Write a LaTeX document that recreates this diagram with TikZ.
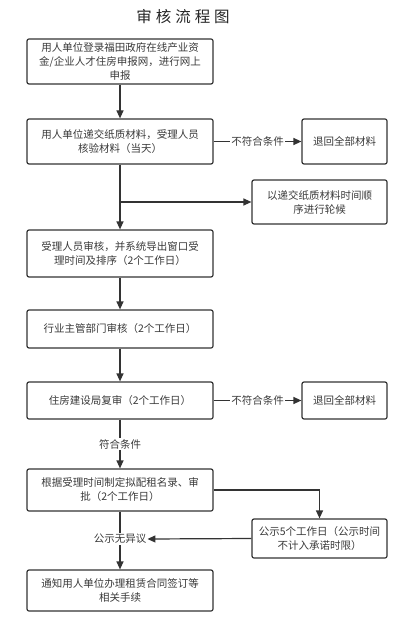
\documentclass[tikz,border=0pt]{standalone}
\usepackage{fontspec}
\setmainfont{Noto Sans CJK SC}
\usetikzlibrary{arrows.meta}
\definecolor{edge}{HTML}{333333}
\definecolor{txt}{HTML}{3A3A3A}
\begin{document}
\begin{tikzpicture}[x=1pt,y=-1pt,
  box/.style={draw=edge,line width=1.2pt,rounded corners=2pt,align=center,
    text=txt,font=\fontsize{10.5}{14}\selectfont,inner sep=2pt},
  arr/.style={draw=edge,line width=1.2pt,-{Triangle[length=8pt,width=7pt]}},
  lab/.style={fill=white,text=txt,font=\fontsize{10.5}{13}\selectfont,inner sep=1pt}]
\useasboundingbox[fill=white] (0,0) rectangle (418,628);
\node[font=\fontsize{15.5}{18}\selectfont,text=black!85] (title) at (183,17) {审\hspace{4pt}核\hspace{4pt}流\hspace{4pt}程\hspace{4pt}图};
\node[box,minimum width=186pt,minimum height=45pt] (b1) at (120,61.5) {用人单位登录福田政府在线产业资\\金/企业人才住房申报网，进行网上\\申报};
\node[box,minimum width=186pt,minimum height=45pt] (b2) at (120,141.5) {用人单位递交纸质材料，受理人员\\核验材料（当天）};
\node[box,minimum width=85pt,minimum height=45pt] (b3) at (344.5,141.5) {退回全部材料};
\node[box,minimum width=135pt,minimum height=44pt] (b4) at (319.5,202) {以递交纸质材料时间顺\\序进行轮候};
\node[box,minimum width=186pt,minimum height=47pt] (b5) at (120,253.5) {受理人员审核，并系统导出窗口受\\理时间及排序（2个工作日）};
\node[box,minimum width=186pt,minimum height=38pt] (b6) at (120,329) {行业主管部门审核（2个工作日）};
\node[box,minimum width=186pt,minimum height=37pt] (b7) at (120,400.5) {住房建设局复审（2个工作日）};
\node[box,minimum width=85pt,minimum height=37pt] (b8) at (344.5,400.5) {退回全部材料};
\node[box,minimum width=186pt,minimum height=42pt] (b9) at (120,490) {根据受理时间制定拟配租名录、审\\批（2个工作日）};
\node[box,minimum width=135pt,minimum height=39pt] (b10) at (319.5,538.5) {公示5个工作日（公示时间\\不计入承诺时限）};
\node[box,minimum width=186pt,minimum height=41pt] (b11) at (120,590.5) {通知用人单位办理租赁合同签订等\\相关手续};
\draw[arr] (b1) -- (b2);
\draw[arr] (b2) -- node[lab] {不符合条件} (b3);
\draw[arr] (b2) -- (b5);
\coordinate (br) at (b2.south |- b4.west);
\draw[arr] (br) -- (b4.west);
\draw[arr] (b5) -- (b6);
\draw[arr] (b6) -- (b7);
\draw[arr] (b7) -- node[lab] {不符合条件} (b8);
\draw[arr] (b7) -- node[lab,pos=0.5] {符合条件} (b9);
\draw[arr] (b9.east) -| (b10.north);
\draw[arr] (b9) -- (b11);
\node[lab] (ok) at (120,539) {公示无异议};
\draw[arr] (b10.west) -- (ok.east);
\end{tikzpicture}
\end{document}
